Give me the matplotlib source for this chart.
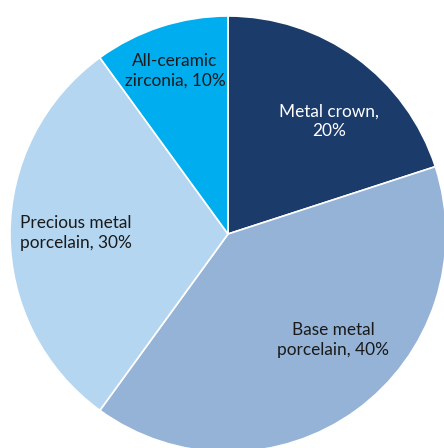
import matplotlib
matplotlib.use("Agg")
import matplotlib.pyplot as plt

labels = ["Metal crown,\n20%", "Base metal\nporcelain, 40%",
          "Precious metal\nporcelain, 30%", "All-ceramic\nzirconia, 10%"]
shares = [20, 40, 30, 10]
colors = ["#1b3c6b", "#95b3d7", "#b4d6f1", "#00adef"]
text_colors = ["white", "#1a1a1a", "#1a1a1a", "#1a1a1a"]
# label centres in axis units (pie radius = 1)
label_pos = [(0.463, 0.518), (0.482, -0.486), (-0.70, 0.005), (-0.243, 0.748)]

plt.rcParams["font.family"] = ["Lato", "DejaVu Sans"]

fig = plt.figure(figsize=(4.44, 4.48), dpi=100)
ax = fig.add_axes([0, 0, 1, 1])
ax.pie(shares, colors=colors, startangle=90, counterclock=False, radius=1,
       wedgeprops=dict(edgecolor="white", linewidth=1.2))
for lab, (x, y), c in zip(labels, label_pos, text_colors):
    ha = "left" if lab.startswith("Precious") else "center"
    if ha == "left":
        x = (20 - 228) / 218
    ax.text(x, y, lab, ha=ha, va="center", color=c, fontsize=12.4,
            linespacing=1.3, multialignment="center" if ha == "center" else "left")
ax.set_xlim(-228 / 218, 216 / 218)
ax.set_ylim(-214 / 218, 234 / 218)
ax.set_aspect("equal")
ax.axis("off")
fig.savefig("out.png", dpi=100)
